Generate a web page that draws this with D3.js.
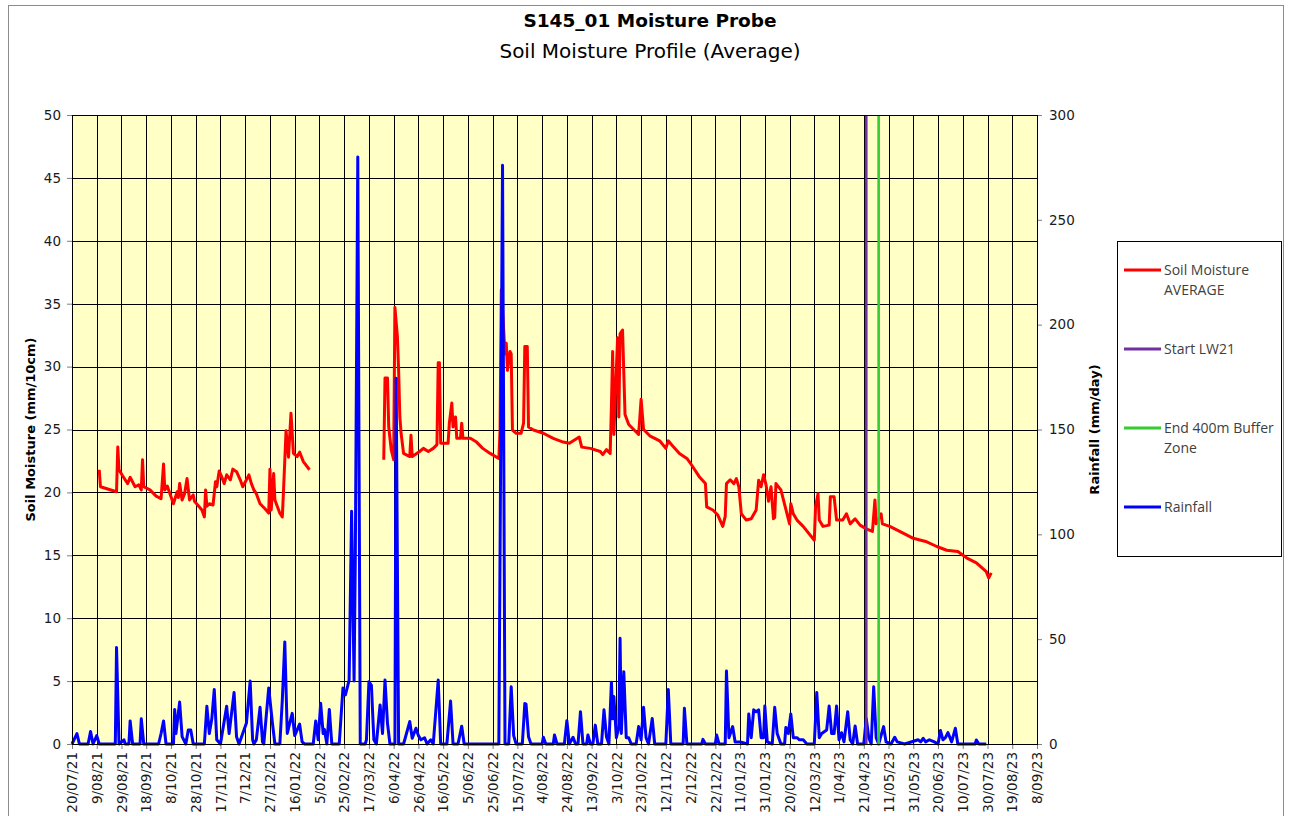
<!DOCTYPE html>
<html>
<head>
<meta charset="utf-8">
<script src="https://cdn.jsdelivr.net/npm/d3@7"></script>
<style>
  body { margin: 0; background: #fff; }
  svg { display: block; }
</style>
</head>
<body>
<div id="chart"></div>
<script>
// ---- data (day = days after 20/07/21) ----
const startDate = "20/07/21";

const xTickLabels = ["20/07/21","9/08/21","29/08/21","18/09/21","8/10/21","28/10/21","17/11/21","7/12/21",
  "27/12/21","16/01/22","5/02/22","25/02/22","17/03/22","6/04/22","26/04/22","16/05/22","5/06/22",
  "25/06/22","15/07/22","4/08/22","24/08/22","13/09/22","3/10/22","23/10/22","12/11/22","2/12/22",
  "22/12/22","11/01/23","31/01/23","20/02/23","12/03/23","1/04/23","21/04/23","11/05/23","31/05/23",
  "20/06/23","10/07/23","30/07/23","19/08/23","8/09/23"];

const leftTicks = [0,5,10,15,20,25,30,35,40,45,50];
const rightTicks = [0,50,100,150,200,250,300];

// soil moisture average (mm/10cm), null = no record
const soilMoisture = [
  [22,21.8],[23,20.45],[36,20.05],[37,23.6],[38,21.8],[41,21.3],[45,20.7],[47,21.2],[51,20.45],[54,20.6],
  [56,20.2],[57,22.6],[58,20.45],[63,20.2],[68,19.7],[72,19.5],[74,22.25],[75,20.2],[77,20.5],[82,19.1],
  [85,20.05],[86,19.6],[87,20.7],[89,19.4],[91,19.9],[93,21.1],[95,19.4],[98,19.8],[99,19.3],[105,18.6],
  [107,18.05],[108,20.2],[109,18.9],[111,19.1],[114,19.0],[116,20.85],[117,20.45],[119,21.7],[121,21.25],
  [123,20.7],[125,21.4],[128,21.0],[130,21.85],[133,21.65],[136,21.0],[138,20.45],[141,21.0],[143,21.4],
  [145,20.7],[147,20.2],[149,19.9],[152,19.1],[156,18.7],[159,18.35],[160,21.85],[161,18.6],[163,21.5],
  [164,19.4],[168,18.35],[170,18.05],[171,20.2],[173,24.9],[175,22.8],[177,26.3],[179,23.1],[182,22.85],
  [184,23.2],[187,22.45],[192,21.8],
  [220,null],
  [252,22.6],[253,29.1],[255,29.1],[256,25.2],[258,23.4],[260,22.6],[261,34.7],[263,32.4],[264,29.7],
  [265,26.0],[266,24.7],[268,23.1],[273,22.85],[274,24.55],[275,22.85],[281,23.25],[284,23.5],[288,23.25],
  [292,23.5],[295,23.8],[296,30.3],[297,30.3],[298,23.9],[304,23.9],[305,25.5],[307,27.1],[308,25.2],
  [310,26.0],[311,24.3],[314,24.3],[315,25.5],[316,24.3],[322,24.3],[327,24.0],[332,23.5],[338,23.1],
  [345,22.7],[346,24.96],[347,36.1],[348,34.5],[350,31.0],[351,31.85],[352,29.7],[354,31.2],[355,31.0],
  [356,24.96],[359,24.7],[363,24.7],[365,25.5],[366,31.6],[368,31.6],[369,25.2],[373,24.96],[381,24.7],
  [389,24.3],[397,24.0],[402,23.9],[410,24.4],[412,23.6],[419,23.5],[427,23.25],[429,23.0],[432,23.4],
  [435,23.1],[436,26.8],[437,31.2],[438,24.6],[441,32.3],[442,26.0],[443,32.6],[445,32.9],[447,26.2],
  [450,25.4],[454,25.0],[458,24.6],[460,27.4],[462,25.0],[467,24.5],[475,24.1],[480,23.5],[482,24.1],
  [485,23.75],[491,23.1],[497,22.7],[500,22.3],[507,21.25],[512,20.7],[513,18.85],[518,18.6],[522,18.2],
  [526,17.3],[528,18.1],[529,20.7],[532,21.0],[535,20.7],[537,21.1],[539,20.45],[541,18.3],[545,17.8],
  [549,17.9],[553,18.6],[555,20.96],[557,20.45],[559,21.4],[561,20.6],[563,19.3],[565,20.45],[567,17.9],
  [568,18.0],[569,20.7],[573,20.2],[580,17.5],[581,19.1],[583,18.3],[586,17.8],[591,17.3],[600,16.2],
  [601,18.85],[603,19.9],[604,17.8],[607,17.3],[612,17.4],[613,19.66],[616,19.66],[618,17.8],[623,17.8],
  [626,18.3],[629,17.5],[633,17.9],[637,17.4],[642,17.1],[647,16.9],[649,19.4],[650,17.5],[654,18.3],
  [655,17.5],[661,17.3],[669,16.9],[680,16.35],[690,16.1],[699,15.7],[707,15.4],[716,15.3],[723,14.8],
  [731,14.4],[739,13.7],[741,13.2],[743,13.6]
];

// daily rainfall (mm/day)
const rainfall = [
  [0,0],[4,5],[6,0],[13,0],[15,6],[17,0],[20,4],[22,0],[35,0],[36,46],[38,0],[42,2],[43,0],[46,0],[47,11],
  [49,0],[55,0],[56,12],[58,0],[70,0],[72,5],[74,11],[76,0],[82,0],[83,16.5],[84,5],[87,20],[89,3.5],
  [92,0],[94,6.7],[96,6.7],[98,0],[107,0],[109,18],[111,5],[113,12],[115,26],[117,2],[120,0],[125,18],
  [127,5],[131,24.6],[133,3.5],[135,0],[138,5],[141,10],[144,30],[146,2],[147,0],[149,2],[152,17.5],
  [154,1],[155,0],[159,26.7],[162,10],[164,0],[168,0],[170,21],[172,48.7],[174,5],[176,10],[178,14.6],
  [180,4],[184,9.5],[186,1],[188,0],[195,0],[197,11],[199,2],[201,19.4],[203,5],[204,7],[206,0],
  [208,16.5],[210,0],[216,0],[219,26.7],[221,23.4],[224,30.5],[226,111],[228,30],[229,89],[231,280],
  [233,0],[237,0],[238,2],[240,29.7],[242,28],[244,2],[246,0],[249,18.6],[251,5],[253,30.5],[255,9.9],
  [257,0],[261,0],[262,174.5],[264,0],[268,0],[273,10.7],[275,2.7],[278,7.5],[280,4],[282,2],[285,3],
  [287,0],[290,2],[292,0],[296,30.5],[298,0],[303,0],[306,20.5],[308,0],[312,0],[315,8.5],[317,0],
  [345,0],[348,276],[350,0],[353,0],[355,27.3],[357,4],[359,0],[364,0],[366,19.3],[367,19],[369,3.5],
  [371,0],[380,0],[381,3.2],[383,0],[389,0],[390,4.3],[392,0],[398,0],[400,11.1],[402,0],[405,3.2],
  [407,0],[409,0],[411,15.4],[413,0],[416,0],[417,4.3],[419,0],[421,0],[423,9],[425,0],[428,0],[430,16.3],
  [432,3.5],[434,0],[436,29.5],[437,12],[438,22.6],[440,3],[442,8],[443,50.4],[444,5],[446,34.5],[448,3],
  [450,3],[452,0],[456,0],[458,8.3],[460,2],[462,17.5],[464,3],[466,0],[469,12.2],[471,0],[480,0],
  [482,26],[484,0],[494,0],[495,17],[497,0],[509,0],[510,2.2],[512,0],[520,0],[521,4.3],[523,0],[528,0],
  [529,34.8],[531,3],[534,8.3],[536,1],[540,1],[546,0],[547,14.3],[549,3],[551,16.3],[553,15.4],
  [555,16.3],[557,3],[559,3],[560,18.1],[562,1],[566,0],[568,17.5],[570,5],[573,0],[576,0],[577,7.9],
  [579,5],[581,14.3],[583,3],[586,3],[588,2],[591,2],[594,0],[600,0],[602,24.6],[604,3],[606,5],
  [610,6.7],[612,18.1],[614,5],[616,5],[618,18.1],[620,2],[622,5.4],[624,1],[627,15.4],[629,2],[631,0],
  [633,8.6],[635,0],[640,0],[642,12.2],[644,3],[646,0],[648,27.3],[650,3],[652,0],[656,8.3],[658,1],
  [662,0],[665,3.2],[667,1],[673,0],[684,2],[686,1],[688,2.7],[690,1],[693,2],[697,1],[700,0],[702,6.4],
  [704,2],[706,3],[708,5.4],[711,1],[714,7.5],[716,0],[730,0],[731,1.9],[733,0],[739,0]
];

const startLW21 = "23/04/23";
const endBufferZone = "3/05/23";

const legendItems = [
  {lines: ["Soil Moisture", "AVERAGE"], color: "#ff0000"},
  {lines: ["Start LW21"], color: "#7030a0"},
  {lines: ["End 400m Buffer", "Zone"], color: "#33cc33"},
  {lines: ["Rainfall"], color: "#0000ff"}
];

// ---- layout ----
const width = 1289;
const height = 816;
const margin = {top: 115, left: 72, right: 252, bottom: 72};
const plotRight = width - margin.right;
const plotBottom = height - margin.bottom;

const parse = d3.timeParse("%d/%m/%y");
const start = parse(startDate);
const dayDate = function(d) { return d3.timeDay.offset(start, d); };

const viz = d3.select("#chart")
  .append("svg")
  .attr("width", width)
  .attr("height", height)
  .style("font-family", "'DejaVu Sans', Verdana, sans-serif");

// outer frame
viz.append("rect")
  .attr("x", 8.5).attr("y", 5.5)
  .attr("width", 1275).attr("height", 830)
  .attr("fill", "#fff")
  .attr("stroke", "#8c8c8c");

// scales
const tickDates = xTickLabels.map(parse);

const xScale = d3.scaleTime()
  .domain([tickDates[0], tickDates[tickDates.length - 1]])
  .range([margin.left, plotRight]);

const yLeft = d3.scaleLinear()
  .domain([0, 50])
  .range([plotBottom, margin.top]);

const yRight = d3.scaleLinear()
  .domain([0, 300])
  .range([plotBottom, margin.top]);

// plot background
viz.append("rect")
  .attr("x", margin.left).attr("y", margin.top)
  .attr("width", plotRight - margin.left)
  .attr("height", plotBottom - margin.top)
  .attr("fill", "#ffffc6");

// gridlines
viz.append("g")
  .selectAll("line")
  .data(leftTicks)
  .join("line")
  .attr("x1", margin.left).attr("x2", plotRight)
  .attr("y1", function(d) { return Math.round(yLeft(d)) + 0.5; })
  .attr("y2", function(d) { return Math.round(yLeft(d)) + 0.5; })
  .attr("stroke", "#000")
  .attr("stroke-width", 1);

viz.append("g")
  .selectAll("line")
  .data(tickDates)
  .join("line")
  .attr("x1", function(d) { return Math.round(xScale(d)) + 0.5; })
  .attr("x2", function(d) { return Math.round(xScale(d)) + 0.5; })
  .attr("y1", margin.top).attr("y2", plotBottom)
  .attr("stroke", "#000")
  .attr("stroke-width", 1);

// axes
const xAxis = viz.append("g")
  .attr("transform", `translate(0,${plotBottom})`)
  .call(d3.axisBottom(xScale)
    .tickValues(tickDates)
    .tickFormat(function(d, i) { return xTickLabels[i]; })
    .tickSize(5)
    .tickPadding(4));
xAxis.selectAll("text")
  .attr("transform", "rotate(-90)")
  .attr("text-anchor", "end")
  .attr("dy", "0.35em")
  .attr("x", -8)
  .attr("y", 0);

const yAxisLeft = viz.append("g")
  .attr("transform", `translate(${margin.left},0)`)
  .call(d3.axisLeft(yLeft).tickValues(leftTicks).tickSize(5).tickPadding(6));

const yAxisRight = viz.append("g")
  .attr("transform", `translate(${plotRight},0)`)
  .call(d3.axisRight(yRight).tickValues(rightTicks).tickSize(5).tickPadding(7));

[xAxis, yAxisLeft, yAxisRight].forEach(function(a) {
  a.select(".domain").remove();
  a.selectAll("text")
    .attr("font-size", 13.5)
    .attr("font-family", "'DejaVu Sans', Verdana, sans-serif")
    .attr("fill", "#1a1a1a");
  a.selectAll(".tick line").attr("stroke", "#7f7f7f");
});

// lines
const soilLine = d3.line()
  .defined(function(d) { return d[1] !== null; })
  .x(function(d) { return xScale(dayDate(d[0])); })
  .y(function(d) { return yLeft(d[1]); });

const rainLine = d3.line()
  .x(function(d) { return xScale(dayDate(d[0])); })
  .y(function(d) { return yRight(d[1]); });

viz.append("path")
  .datum(soilMoisture)
  .attr("d", soilLine)
  .attr("fill", "none")
  .attr("stroke", "#ff0000")
  .attr("stroke-width", 3)
  .attr("stroke-linejoin", "round");

viz.append("path")
  .datum(rainfall)
  .attr("d", rainLine)
  .attr("fill", "none")
  .attr("stroke", "#0000ff")
  .attr("stroke-width", 3)
  .attr("stroke-linejoin", "round");

// event markers
[[startLW21, "#7030a0"], [endBufferZone, "#33cc33"]].forEach(function(m) {
  const x = xScale(parse(m[0]));
  viz.append("line")
    .attr("x1", x).attr("x2", x)
    .attr("y1", margin.top).attr("y2", plotBottom)
    .attr("stroke", m[1])
    .attr("stroke-width", 2.6);
});

// plot border
viz.append("rect")
  .attr("x", margin.left + 0.5).attr("y", margin.top + 0.5)
  .attr("width", plotRight - margin.left)
  .attr("height", plotBottom - margin.top)
  .attr("fill", "none")
  .attr("stroke", "#000");

// titles
viz.append("text")
  .attr("x", 650).attr("y", 27)
  .attr("text-anchor", "middle")
  .attr("font-size", 18.5)
  .attr("font-weight", "bold")
  .text("S145_01 Moisture Probe");

viz.append("text")
  .attr("x", 650).attr("y", 58)
  .attr("text-anchor", "middle")
  .attr("font-size", 20)
  .text("Soil Moisture Profile (Average)");

viz.append("text")
  .attr("transform", `translate(35,${(margin.top + plotBottom) / 2}) rotate(-90)`)
  .attr("text-anchor", "middle")
  .attr("font-size", 13)
  .attr("font-weight", "bold")
  .text("Soil Moisture (mm/10cm)");

viz.append("text")
  .attr("transform", `translate(1099,${(margin.top + plotBottom) / 2}) rotate(-90)`)
  .attr("text-anchor", "middle")
  .attr("font-size", 13)
  .attr("font-weight", "bold")
  .text("Rainfall (mm/day)");

// legend
const legend = viz.append("g").attr("transform", "translate(1117,241)");
legend.append("rect")
  .attr("x", 0.5).attr("y", 0.5)
  .attr("width", 164).attr("height", 315)
  .attr("fill", "#fff")
  .attr("stroke", "#000");

const rowY = [29, 108, 187, 266];
legendItems.forEach(function(item, i) {
  const g = legend.append("g").attr("transform", `translate(0,${rowY[i]})`);
  g.append("line")
    .attr("x1", 7).attr("x2", 44)
    .attr("stroke", item.color)
    .attr("stroke-width", 3);
  item.lines.forEach(function(t, j) {
    g.append("text")
      .attr("x", 47).attr("y", j * 20)
      .attr("dy", "0.35em")
      .attr("font-size", 14)
      .attr("font-family", "'Open Sans', 'Liberation Sans', sans-serif")
      .attr("fill", "#404040")
      .text(t);
  });
});
</script>
</body>
</html>
